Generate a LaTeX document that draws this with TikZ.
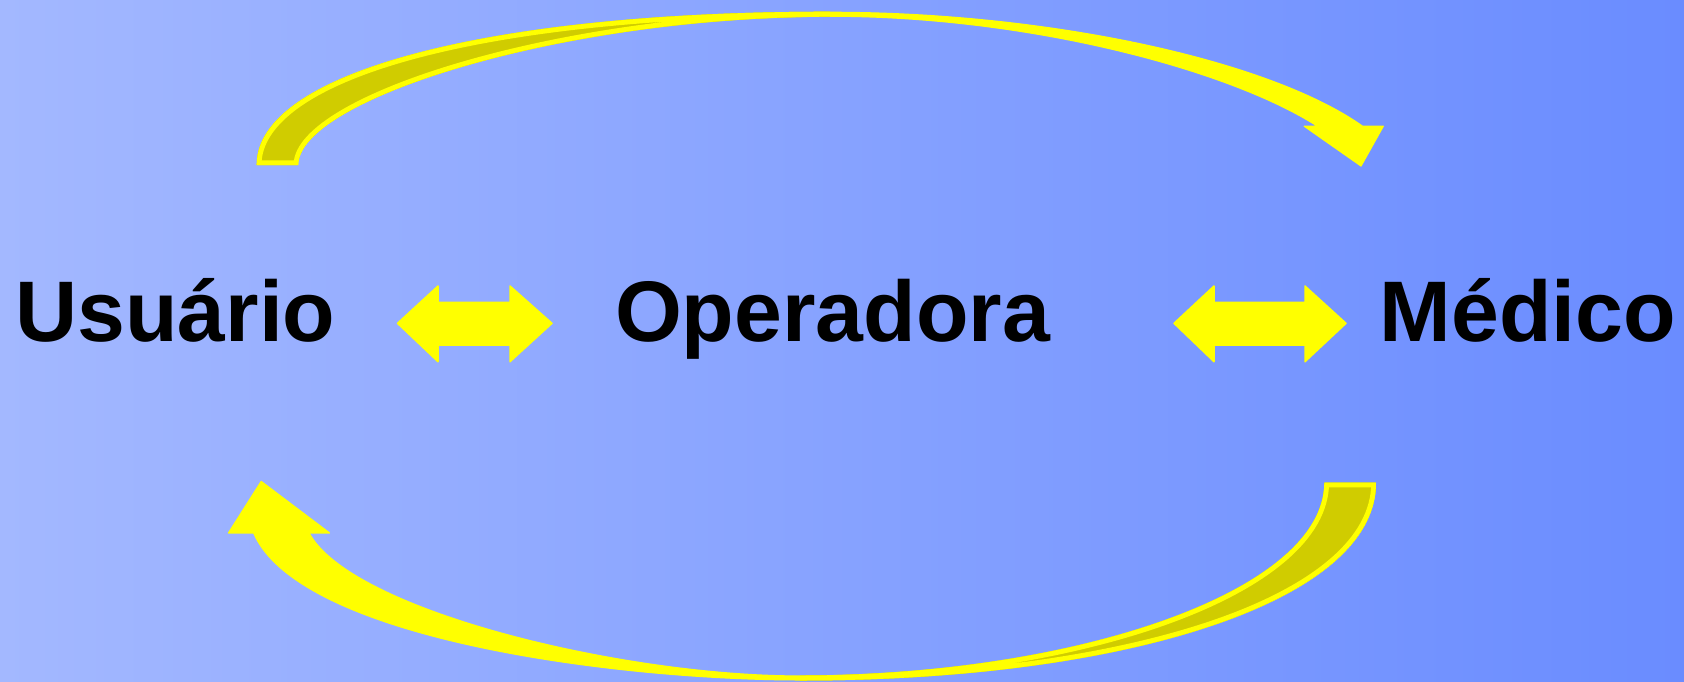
\documentclass[tikz,border=0pt]{standalone}
\usepackage{fontspec}
\setmainfont{Liberation Sans}
\definecolor{bgL}{RGB}{163,184,255}
\definecolor{bgR}{RGB}{106,140,255}
\definecolor{ylw}{RGB}{255,255,0}
\definecolor{dkylw}{RGB}{208,204,0}
\def\topbackpath{(256.7,165) .. controls (256.7,75) and (480,11.7) .. (830,11.7) -- (830,16.7) .. controls (560,16.7) and (298.3,100) .. (298.3,165) -- cycle}
\def\botbackpath{(1376,482.7) .. controls (1376,600) and (1130,680.5) .. (800,680.5) -- (800,675.5) .. controls (1080,675.5) and (1324.3,590) .. (1324.3,482.7) -- cycle}
\begin{document}
\begin{tikzpicture}[x=1pt,y=-1pt,
  lbl/.style={font=\fontsize{86}{100}\selectfont\bfseries, inner sep=0pt, anchor=base, text=black},
  band/.style={fill=ylw, draw=ylw, line width=1.2pt, line join=round},
  backface/.style={fill=dkylw},
  rim/.style={draw=ylw, line width=9.5pt, line join=round},
  dbl/.style={fill=ylw, draw=ylw, line width=1.5pt, line join=round}]
\useasboundingbox (0,0) rectangle (1684,681);
\shade[left color=bgL, right color=bgR] (0,0) rectangle (1684,681);

% labels
\node[lbl] (usuario) at (175.4,341.7) {Usuário};
\node[lbl] (operadora) at (832.5,341.7) {Operadora};
\node[lbl] (medico) at (1528,341.7) {Médico};

% double arrows
\draw[dbl] (397.5,323.3) -- (438,286) -- (438,302.3) -- (510,302.3) -- (510,286) -- (552,323.3) -- (510,361.7) -- (510,345) -- (438,345) -- (438,361.7) -- cycle;
\draw[dbl] (1174,323.3) -- (1214,286) -- (1214,302.3) -- (1305,302.3) -- (1305,286) -- (1346,323.3) -- (1305,361.7) -- (1305,345) -- (1214,345) -- (1214,361.7) -- cycle;

% top curved arrow (Usuario -> Medico)
\path[band] (257.3,164.4) .. controls (257.3,75) and (480,12.3) .. (830,12.3)
  .. controls (1050,12.3) and (1270,60.6) .. (1362.5,126.2) -- (1383.3,126.2) -- (1361,166) -- (1304.2,126.2) -- (1317.5,126.2)
  .. controls (1230,70) and (1030,16.2) .. (830,16.2)
  .. controls (560,16.2) and (297.7,100) .. (297.7,164.4) -- cycle;
\begin{scope}
  \clip \topbackpath;
  \fill[backface] \topbackpath;
  \draw[rim] \topbackpath;
\end{scope}

% bottom curved arrow (Medico -> Usuario)
\path[band] (1375.4,483.3) .. controls (1375.4,600) and (1130,679.9) .. (800,679.9)
  .. controls (620,679.9) and (300,640) .. (253.6,532.9) -- (228.5,532.9) -- (261.2,481.4) -- (329.5,532.9) -- (309.1,532.9)
  .. controls (350,610) and (620,676) .. (800,676)
  .. controls (1080,676) and (1324.9,590) .. (1324.9,483.3) -- cycle;
\begin{scope}
  \clip \botbackpath;
  \fill[backface] \botbackpath;
  \draw[rim] \botbackpath;
\end{scope}
\end{tikzpicture}
\end{document}
